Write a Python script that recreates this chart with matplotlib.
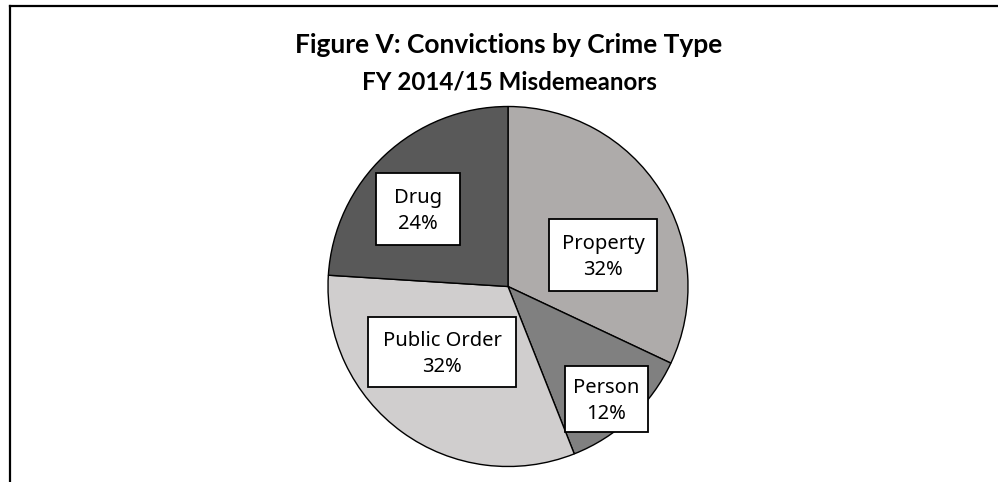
import matplotlib
matplotlib.use("Agg")
import matplotlib.pyplot as plt
from matplotlib.lines import Line2D
from matplotlib.patches import Rectangle

# Data
categories = ["Property", "Person", "Public Order", "Drug"]
shares = [32, 12, 32, 24]
colors = ["#AEABAA", "#808080", "#D0CECE", "#595959"]

title = "Figure V: Convictions by Crime Type"
subtitle = "FY 2014/15 Misdemeanors"

# label boxes (centre x, centre y, width, height) in pie-radius units
label_boxes = [
    (0.53, 0.175, 0.60, 0.405),
    (0.545, -0.625, 0.46, 0.37),
    (-0.367, -0.364, 0.82, 0.39),
    (-0.50, 0.43, 0.47, 0.40),
]

plt.rcParams['font.family'] = ['Noto Sans', 'DejaVu Sans']

W, H = 998, 482
fig = plt.figure(figsize=(W / 100, H / 100), dpi=100)
ax = fig.add_axes([0, 0, 1, 1])

# pie centre in pixels and radius
cx, cy, r = 508, 482 - 286.5, 180

ax.pie(shares, colors=colors, startangle=90, counterclock=False, radius=1,
       wedgeprops=dict(edgecolor="black", linewidth=1.0))
ax.set_aspect('auto')
ax.set_xlim(-cx / r, (W - cx) / r)
ax.set_ylim(-cy / r, (H - cy) / r)
ax.axis('off')

for name, val, (bx, by, bw, bh) in zip(categories, shares, label_boxes):
    ax.add_patch(Rectangle((bx - bw / 2, by - bh / 2), bw, bh, facecolor="white",
                           edgecolor="black", linewidth=1.3, zorder=3))
    ax.text(bx, by - 0.01, f"{name}\n{val}%", ha="center", va="center", fontsize=14.5,
            linespacing=1.4, zorder=4)

fig.text(0.51, 0.907, title, ha="center", va="center", fontsize=19,
         fontweight="bold", family=["Lato", "DejaVu Sans"])
fig.text(0.51, 0.83, subtitle, ha="center", va="center", fontsize=17.4,
         fontweight="bold", family=["Lato", "DejaVu Sans"])

# frame: only top and left edges are visible
fig.add_artist(Line2D([10 / W, 1], [1 - 6 / H, 1 - 6 / H], color="black", linewidth=1.6,
                      transform=fig.transFigure))
fig.add_artist(Line2D([10 / W, 10 / W], [0, 1 - 6 / H], color="black", linewidth=1.6,
                      transform=fig.transFigure))

fig.savefig("out.png", dpi=100)
